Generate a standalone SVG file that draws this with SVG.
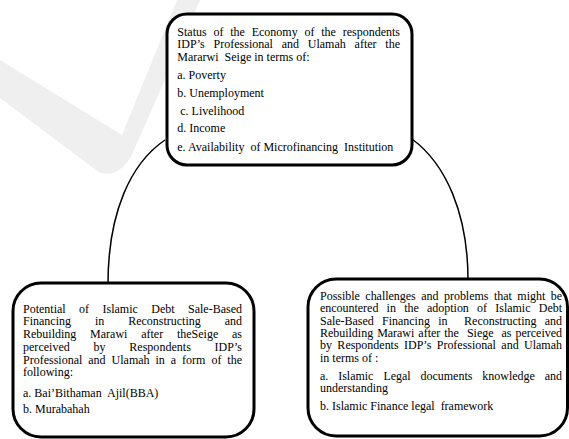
<svg xmlns="http://www.w3.org/2000/svg" width="569" height="439" viewBox="0 0 569 439">
<style>
.box{fill:#fff;stroke:#000;stroke-width:3}
.conn{fill:none;stroke:#000;stroke-width:1.5}
text{font-family:"Liberation Serif","Times New Roman",serif;font-size:12px;fill:#000;white-space:pre}
</style>
<rect width="569" height="439" fill="#fff"/>
<path d="M0,60 L122,135 L177,0 L200,0 L134,150 Q122,178 100,173 L0,98 Z" fill="#efefef"/>
<g id="connectors">
<path class="conn" d="M165,140 C131,163 108,212 108,284"/>
<path class="conn" d="M412,139 C446,164 468,214 468,280"/>
</g>
<g id="node-top">
<rect class="box" x="167" y="14" width="245" height="151" rx="20"/>
<text x="177.3" y="35.5" word-spacing="3.78" textLength="222.7" lengthAdjust="spacing">Status of the Economy of the respondents</text>
<text x="177.3" y="48" word-spacing="5.68" textLength="222.7" lengthAdjust="spacing">IDP’s Professional and Ulamah after the</text>
<text x="177.3" y="60.5">Mararwi  Seige in terms of:</text>
<text x="177.3" y="79">a. Poverty</text>
<text x="177.3" y="96.8">b. Unemployment</text>
<text x="177.3" y="114.6"> c. Livelihood</text>
<text x="177.3" y="132.4">d. Income</text>
<text x="177.3" y="150.6">e. Availability  of Microfinancing  Institution</text>
</g>
<g id="node-left">
<rect class="box" x="13" y="283" width="241" height="154" rx="28"/>
<text x="23" y="312.7" word-spacing="10.4" textLength="219" lengthAdjust="spacing">Potential of Islamic Debt Sale-Based</text>
<text x="23" y="325.4" word-spacing="20.9" textLength="219" lengthAdjust="spacing">Financing in Reconstructing and</text>
<text x="23" y="338.1" word-spacing="10.75" textLength="219" lengthAdjust="spacing">Rebuilding Marawi after theSeige as</text>
<text x="23" y="350.8" word-spacing="20.7" textLength="219" lengthAdjust="spacing">perceived by Respondents IDP’s</text>
<text x="23" y="363.5" word-spacing="2.96" textLength="219" lengthAdjust="spacing">Professional and Ulamah in a form of the</text>
<text x="23" y="376.2">following:</text>
<text x="23" y="396.7">a. Bai’Bithaman  Ajil(BBA)</text>
<text x="23" y="413.3">b. Murabahah</text>
</g>
<g id="node-right">
<rect class="box" x="308" y="279" width="259.5" height="157" rx="28"/>
<text x="320" y="300" word-spacing="2.5" textLength="242" lengthAdjust="spacing">Possible challenges and problems that might be</text>
<text x="320" y="312.3" word-spacing="5.29" textLength="242" lengthAdjust="spacing">encountered in the adoption of Islamic Debt</text>
<text x="320" y="324.6" word-spacing="5.34" textLength="242" lengthAdjust="spacing">Sale-Based Financing in  Reconstructing and</text>
<text x="320" y="336.9" word-spacing="1.05" textLength="242" lengthAdjust="spacing">Rebuilding Marawi after the  Siege  as perceived</text>
<text x="320" y="349.2" word-spacing="2.4" textLength="242" lengthAdjust="spacing">by Respondents IDP’s Professional and Ulamah</text>
<text x="320" y="361.5">in terms of :</text>
<text x="320" y="380" word-spacing="7.0" textLength="242" lengthAdjust="spacing">a. Islamic Legal documents knowledge and</text>
<text x="320" y="392.3">understanding</text>
<text x="320" y="410">b. Islamic Finance legal  framework</text>
</g>
</svg>
